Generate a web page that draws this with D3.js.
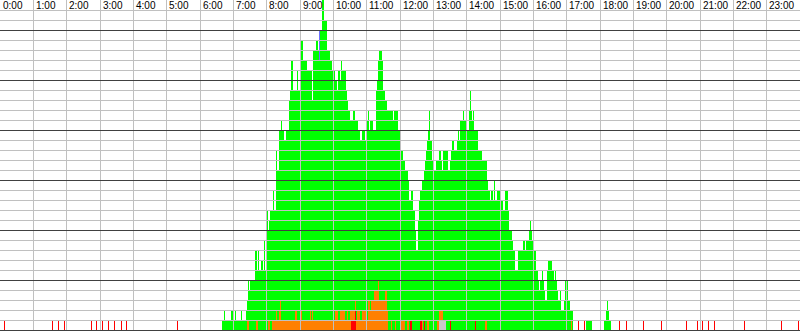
<!DOCTYPE html>
<html>
<head>
<meta charset="utf-8">
<script src="https://cdn.jsdelivr.net/npm/d3@7/dist/d3.min.js"></script>
<style>
  html, body { margin: 0; padding: 0; background: #fff; }
  svg { display: block; }
</style>
</head>
<body>
<script>
// hour labels across the top
var hourLabels = d3.range(24).map(function(h){ return h + ':00'; });

// total units in the stack, as steps: [minute of day, count from that minute on]
var totalSteps = [[399,1],[404,2],[405,1],[415,2],[416,1],[418,2],[419,1],[423,2],[424,1],[433,2],[435,1],
  [443,2],[445,3],[447,5],[449,4],[450,5],[459,8],[462,6],[464,8],[466,6],[469,7],[473,6],[475,9],[477,6],
  [480,12],[483,10],[485,11],[486,12],[491,14],[493,12],[497,18],[499,16],[502,20],[505,21],[508,20],[512,19],
  [514,20],[520,23],[522,24],[524,27],[527,24],[535,26],[537,24],[542,29],[546,27],[553,26],[561,23],[563,28],
  [569,29],[572,28],[574,30],[579,31],[580,33],[584,31],[589,28],[594,27],[597,26],[603,25],[606,24],[608,26],
  [612,25],[614,27],[616,26],[622,24],[624,23],[627,22],[630,21],[636,22],[639,21],[645,20],[648,19],[651,20],
  [657,19],[660,21],[663,22],[664,20],[666,21],[672,20],[676,24],[678,25],[680,27],[683,28],[687,27],[690,24],
  [693,23],[696,22],[708,21],[710,22],[717,20],[722,18],[726,17],[729,16],[734,15],[735,13],[740,14],[744,12],
  [747,10],[749,8],[752,10],[753,11],[754,12],[755,13],[756,14],[760,15],[763,16],[765,17],[767,18],[769,19],
  [771,20],[772,22],[774,19],[777,17],[780,16],[784,17],[790,18],[794,17],[795,16],[798,18],[807,16],[810,17],
  [812,18],[814,19],[818,18],[822,19],[824,20],[826,19],[828,21],[834,22],[836,21],[840,20],[844,22],[846,24],
  [848,22],[850,21],[852,22],[854,20],[861,18],[867,17],[876,15],[879,14],[882,13],[884,14],[888,13],[890,15],
  [891,13],[894,14],[900,13],[906,12],[909,14],[914,12],[915,10],[921,9],[924,8],[927,6],[933,8],[942,9],
  [945,8],[947,9],[950,8],[951,9],[952,10],[954,11],[956,10],[957,9],[960,8],[964,6],[968,5],[970,4],[972,5],
  [975,6],[978,5],[980,4],[981,3],[984,6],[987,7],[994,6],[998,5],[999,6],[1001,5],[1002,4],[1005,3],[1008,4],
  [1010,2],[1015,3],[1017,5],[1020,3],[1021,5],[1023,3],[1026,2],[1032,0],[1055,1],[1065,0],
  [1087,1],[1091,2],[1092,3],[1094,2],[1096,1],[1100,0]];

// orange units (sit on top of red / gray)
var orangeSteps = [[444,1],[449,0],[461,1],[464,0],[483,1],[486,0],[489,1],[497,2],[499,1],[502,2],[504,3],
  [506,1],[531,2],[535,1],[540,0],[542,2],[544,1],[558,2],[560,1],[562,2],[564,1],[603,2],[608,1],[612,2],
  [621,1],[624,2],[627,1],[630,2],[632,1],[643,2],[648,1],[651,2],[659,1],[663,3],[666,2],[668,3],[674,4],
  [680,5],[683,3],[693,4],[697,2],[699,0],[700,1],[701,0],[704,1],[705,0],[711,1],[712,0],[722,1],[729,0],
  [732,1],[737,0],[759,1],[762,0],[768,1],[772,0],[787,1],[798,0],[873,1],[877,0],[1028,1],[1030,0]];

// red units inside the busy hours
var redSteps = [[541,1],[542,0],[632,1],[639,2],[641,0],[738,1],[741,0],[756,1],[759,0],[763,1],[765,0],
  [810,1],[811,0],[855,1],[857,0]];

// single red ticks (one minute each)
var redTicks = [7,94,105,116,163,173,184,195,206,217,227,319,1040,1051,1115,1126,1158,1190,1234,1254,
  1264,1275,1286,1340,1405,1437];

var graySteps = [[790,1],[803,0]];
var blueSteps = [[575,3],[576,0]];

var W = 800, H = 331;
var maxUnits = 33;

var colors = {
	red: '#ff0000',
	gray: '#c8c8c8',
	orange: '#ff8000',
	green: '#00ff00',
	blue: '#7070ff'
};
// bottom to top
var stackOrder = ['red','gray','orange','green','blue'];

var x = d3.scaleLinear().domain([0, 1440]).range([0, W]);
var y = d3.scaleLinear().domain([0, maxUnits]).range([330, 0]);

var svg = d3.select('body').append('svg')
	.attr('width', W)
	.attr('height', H);

svg.append('rect').attr('width', W).attr('height', H).attr('fill', '#fff');

var stepAt = function(steps, m){
	var v = 0;
	for (var i = 0; i < steps.length; i++) {
		if (steps[i][0] <= m) { v = steps[i][1]; } else { break; }
	}
	return v;
};

// counts of every colour for each minute
var minutes = d3.range(1440).map(function(m){
	var d = {
		red: stepAt(redSteps, m) + (redTicks.indexOf(m) >= 0 ? 1 : 0),
		gray: stepAt(graySteps, m),
		orange: stepAt(orangeSteps, m),
		blue: stepAt(blueSteps, m)
	};
	var others = d.red + d.gray + d.orange + d.blue;
	d.green = Math.max(0, stepAt(totalSteps, m) - others);
	return d;
});

// merge runs of identical minutes into segments
var segments = [];
minutes.forEach(function(d, m){
	var key = stackOrder.map(function(k){ return d[k]; }).join(',');
	var last = segments[segments.length - 1];
	if (last && last.key == key) { last.end = m + 1; }
	else { segments.push({key: key, start: m, end: m + 1, d: d}); }
});

var bars = [];
segments.forEach(function(s){
	var x0 = Math.round(x(s.start));
	var x1 = Math.max(x0 + 1, Math.round(x(s.end)));
	var base = 0;
	stackOrder.forEach(function(k){
		var n = s.d[k];
		if (n > 0) {
			bars.push({x0: x0, x1: x1, lo: base, hi: base + n, color: colors[k]});
		}
		base += n;
	});
});

svg.append('g').attr('class', 'bars')
	.selectAll('rect').data(bars).enter().append('rect')
	.attr('x', function(b){ return b.x0; })
	.attr('width', function(b){ return b.x1 - b.x0; })
	.attr('y', function(b){ return y(b.hi); })
	.attr('height', function(b){ return y(b.lo) - y(b.hi); })
	.attr('fill', function(b){ return b.color; })
	.attr('shape-rendering', 'crispEdges');

// grid on top of the bars
var grid = svg.append('g').attr('class', 'grid').attr('shape-rendering', 'crispEdges');

grid.selectAll('line.v').data(d3.range(1, 24)).enter().append('line')
	.attr('class', 'v')
	.attr('x1', function(h){ return Math.floor(x(h * 60)) + 0.5; })
	.attr('x2', function(h){ return Math.floor(x(h * 60)) + 0.5; })
	.attr('y1', 0).attr('y2', H)
	.attr('stroke', '#c0c0c0');

grid.selectAll('line.h').data(d3.range(0, maxUnits)).enter().append('line')
	.attr('class', 'h')
	.attr('x1', 0).attr('x2', W)
	.attr('y1', function(k){ return Math.round(y(k)) + 0.5; })
	.attr('y2', function(k){ return Math.round(y(k)) + 0.5; })
	.attr('stroke', function(k){ return k % 5 == 0 ? '#404040' : '#c0c0c0'; });

svg.append('g').attr('class', 'labels')
	.selectAll('text').data(hourLabels).enter().append('text')
	.attr('x', function(t, h){ return Math.floor(x(h * 60)) + 3; })
	.attr('y', 9)
	.attr('font-family', '"Liberation Sans Narrow", "Liberation Sans", Arial, sans-serif')
	.attr('font-size', '10px')
	.attr('fill', '#000')
	.text(function(t){ return t; });
</script>
</body>
</html>
